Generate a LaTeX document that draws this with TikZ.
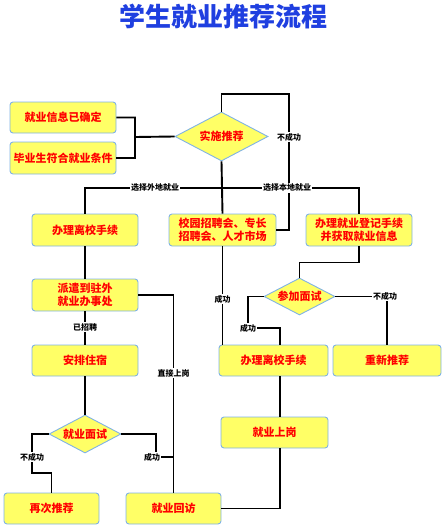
\documentclass[tikz,border=0pt]{standalone}
\usepackage{fontspec}
\newfontfamily\cjk{Noto Sans CJK SC}
\usetikzlibrary{shapes.geometric}
\definecolor{boxyellow}{HTML}{FFFF66}
\definecolor{boxblue}{HTML}{7FB2E5}
\definecolor{titleblue}{HTML}{1F3FE0}
\begin{document}
\begin{tikzpicture}[x=1pt,y=-1pt,
	box/.style={draw=boxblue,fill=boxyellow,line width=0.9pt,rounded corners=3pt,inner sep=0pt,align=center,text=red,font=\cjk\bfseries\fontsize{11}{13}\selectfont},
	dia/.style={diamond,aspect=2,draw=boxblue,fill=boxyellow,line width=0.9pt,inner sep=0pt,text=red,font=\cjk\bfseries\fontsize{11}{13}\selectfont},
	lab/.style={fill=white,inner sep=1pt,font=\cjk\bfseries\fontsize{8}{9}\selectfont},
	link/.style={line width=1.9pt}]
					\useasboundingbox (0,0) rectangle (446,530);
					\node[text=titleblue,font=\cjk\bfseries\fontsize{26}{28}\selectfont] (title) at (223,17) {学生就业推荐流程};
					\node[box,minimum width=106pt,minimum height=31pt] (xinxi) at (63,117.5) {就业信息已确定};
					\node[box,minimum width=106pt,minimum height=32pt] (tiaojian) at (63,158) {毕业生符合就业条件};
					\node[dia,minimum width=93pt,minimum height=49pt] (shishi) at (221.5,136.5) {实施推荐};
					\node[box,minimum width=106pt,minimum height=32pt] (waidi) at (85,230) {办理离校手续};
					\node[box,minimum width=107pt,minimum height=32pt] (xiaoyuan) at (222.5,230) {校园招聘会、专长\\招聘会、人才市场};
					\node[box,minimum width=106pt,minimum height=32pt] (dengji) at (359,230) {办理就业登记手续\\并获取就业信息};
					\node[box,minimum width=106pt,minimum height=32pt] (paiqian) at (85,295) {派遣到驻外\\就业办事处};
					\node[dia,minimum width=71pt,minimum height=37pt] (canjia) at (299.5,296.5) {参加面试};
					\node[box,minimum width=106pt,minimum height=31pt] (anpai) at (85,360.5) {安排住宿};
					\node[box,minimum width=109pt,minimum height=31pt] (lixiao) at (273.5,360.5) {办理离校手续};
					\node[box,minimum width=108pt,minimum height=31pt] (chongxin) at (387,360.5) {重新推荐};
					\node[dia,minimum width=72pt,minimum height=38pt] (mianshi) at (85,434) {就业面试};
					\node[box,minimum width=107pt,minimum height=31pt] (shanggang) at (274.5,432.5) {就业上岗};
					\node[box,minimum width=95pt,minimum height=31pt] (zaici) at (51.5,508.5) {再次推荐};
					\node[box,minimum width=95pt,minimum height=31pt] (huifang) at (173.5,508.5) {就业回访};
					\coordinate (hebing) at (135,137);
					\coordinate (huitou) at (289,94);
					\coordinate (fencha) at (221.5,188);
					\draw[link] (xinxi.east) -| (hebing) -- (shishi.west);
					\draw[link] (tiaojian.east) -| (hebing);
					\draw[link] (xiaoyuan.east) -| (huitou) -| (shishi.north);
					\node[lab] (bcg1) at (289,137) {不成功};
					\draw[link] (shishi.south) -- (xiaoyuan.north);
					\draw[link] (waidi.north) |- (fencha) -| (dengji.north);
					\node[lab] (wdjy) at (155,188) {选择外地就业};
					\node[lab] (bdjy) at (287,188) {选择本地就业};
					\draw[link] (waidi.south) -- (paiqian.north);
					\draw[link] (paiqian.east) -| (huifang.north);
					\node[lab] (zjsg) at (173.5,373) {直接上岗};
					\draw[link] (paiqian.south) -- (anpai.north);
					\node[lab] (yzp) at (85,327) {已招聘};
					\draw[link] (anpai.south) -- (mianshi.north);
					\draw[link] (mianshi.west) -| (32,473) -| (zaici.north);
					\node[lab] (bcg2) at (32,457) {不成功};
					\draw[link] (mianshi.east) -| (156,457) -- (173.5,457);
					\node[lab] (cg1) at (152,457) {成功};
					\draw[link] (xiaoyuan.south) -- (xiaoyuan.south |- lixiao.north);
					\node[lab] (cg2) at (222.5,299) {成功};
					\draw[link] (dengji.south) -- ++(0,16) -| (canjia.north);
					\draw[link] (canjia.west) -| (248,328) -| ([xshift=6.5pt]lixiao.north);
					\node[lab] (cg3) at (248,328) {成功};
					\draw[link] (canjia.east) -| (chongxin.north);
					\node[lab] (bcg3) at (385,296) {不成功};
					\draw[link] ([xshift=6.5pt]lixiao.south) -- ([xshift=5.5pt]shanggang.north);
					\draw[link] ([xshift=5.5pt]shanggang.south) |- (huifang.east);
				\end{tikzpicture}
\end{document}
